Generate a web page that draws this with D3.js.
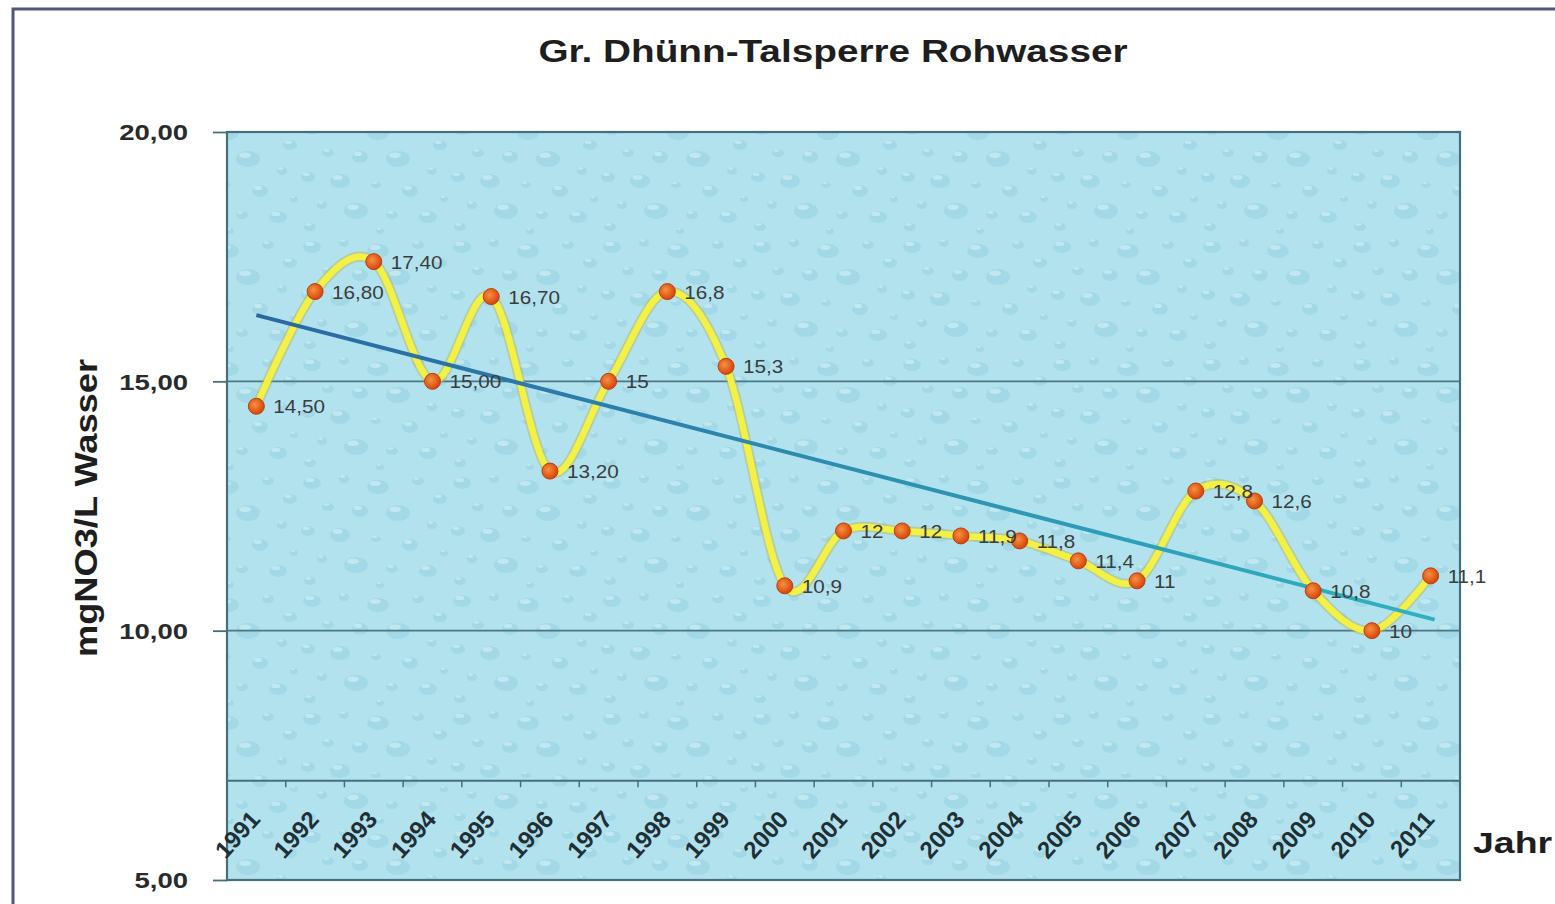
<!DOCTYPE html>
<html lang="de">
<head>
<meta charset="utf-8">
<title>Gr. Dhünn-Talsperre Rohwasser</title>
<script src="https://d3js.org/d3.v7.min.js"></script>
<style>
  body { margin: 0; background: #fff; }
  text { font-family: "Liberation Sans", Arial, sans-serif; }
</style>
</head>
<body>
<script>
// data
var years = ["1991", "1992", "1993", "1994", "1995", "1996", "1997", "1998", "1999", "2000",
             "2001", "2002", "2003", "2004", "2005", "2006", "2007", "2008", "2009", "2010", "2011"];
var nitrate = [14.5, 16.8, 17.4, 15.0, 16.7, 13.2, 15.0, 16.8, 15.3, 10.9,
               12.0, 12.0, 11.9, 11.8, 11.4, 11.0, 12.8, 12.6, 10.8, 10.0, 11.1];
var pointLabels = ["14,50", "16,80", "17,40", "15,00", "16,70", "13,20", "15", "16,8", "15,3", "10,9",
                   "12", "12", "11,9", "11,8", "11,4", "11", "12,8", "12,6", "10,8", "10", "11,1"];
var yTicks = [5, 10, 15, 20];
var gridValues = [10, 15];
var axisCross = 7;

var w = 1555, h = 904;
var plotLeft = 227, plotRight = 1460, plotTop = 132, plotBottom = 880;
var sx = 1.25; // the picture is stretched sideways, text too

var de = d3.formatLocale({decimal: ",", thousands: ".", grouping: [3], currency: ["", " €"]});

var svg = d3.select("body").append("svg")
  .attr("width", w).attr("height", h);

var defs = svg.append("defs");

// water drop texture (hand placed drops in one tile)
var pat = defs.append("pattern")
  .attr("id", "drops").attr("patternUnits", "userSpaceOnUse")
  .attr("width", 150).attr("height", 118);
pat.append("rect").attr("width", 150).attr("height", 118).attr("fill", "#b2e2ee");
var drops = [[12, 10, 9, 6], [44, 6, 5, 4], [78, 14, 11, 7], [118, 8, 6, 4], [140, 26, 7, 5],
             [28, 34, 6, 4], [60, 38, 8, 6], [98, 40, 12, 8], [132, 52, 5, 4], [8, 58, 7, 5],
             [40, 62, 10, 7], [76, 66, 5, 3], [110, 72, 8, 6], [22, 86, 5, 4], [56, 92, 12, 8],
             [92, 96, 6, 4], [128, 98, 9, 6], [10, 108, 6, 4], [80, 112, 4, 3], [144, 80, 4, 3]];
drops.forEach(function(d) {
  pat.append("ellipse").attr("cx", d[0]).attr("cy", d[1] + 1).attr("rx", d[2]).attr("ry", d[3])
    .attr("fill", "#8ccadb").attr("opacity", 0.4);
  pat.append("ellipse").attr("cx", d[0] - d[2] * 0.25).attr("cy", d[1] - d[3] * 0.35)
    .attr("rx", d[2] * 0.5).attr("ry", d[3] * 0.35)
    .attr("fill", "#d8f3f9").attr("opacity", 0.55);
});

var dot = defs.append("radialGradient").attr("id", "dot")
  .attr("cx", "40%").attr("cy", "40%").attr("r", "60%");
dot.append("stop").attr("offset", "0%").attr("stop-color", "#f4923f");
dot.append("stop").attr("offset", "100%").attr("stop-color", "#d9440c");

var x = d3.scaleBand().domain(years).range([plotLeft, plotRight]);
var y = d3.scaleLinear().domain([5, 20]).range([plotBottom, plotTop]);
function cx(d) { return x(d) + x.bandwidth() / 2; }

var trendGrad = defs.append("linearGradient").attr("id", "trend")
  .attr("gradientUnits", "userSpaceOnUse")
  .attr("x1", cx(years[0])).attr("x2", cx(years[years.length - 1]))
  .attr("y1", 0).attr("y2", 0);
trendGrad.append("stop").attr("offset", "0%").attr("stop-color", "#2a68a2");
trendGrad.append("stop").attr("offset", "100%").attr("stop-color", "#2eb2c0");

// outer frame
svg.append("rect")
  .attr("x", 13).attr("y", 9).attr("width", 1600).attr("height", 1000)
  .attr("fill", "none").attr("stroke", "#4f5878").attr("stroke-width", 3);

// title
svg.append("text")
  .attr("transform", "translate(833,62) scale(" + sx + ",1)")
  .attr("text-anchor", "middle").attr("font-size", 31).attr("font-weight", "bold")
  .attr("fill", "#1e1e1e")
  .text("Gr. Dhünn-Talsperre Rohwasser");

// plot area
svg.append("rect")
  .attr("x", plotLeft).attr("y", plotTop).attr("width", plotRight - plotLeft).attr("height", plotBottom - plotTop)
  .attr("fill", "url(#drops)");

// gridlines
svg.selectAll(".grid").data(gridValues).enter().append("line")
  .attr("class", "grid")
  .attr("x1", plotLeft).attr("x2", plotRight)
  .attr("y1", function(d) { return y(d); }).attr("y2", function(d) { return y(d); })
  .attr("stroke", "#4b7884").attr("stroke-width", 1.8);

svg.append("rect")
  .attr("x", plotLeft).attr("y", plotTop).attr("width", plotRight - plotLeft).attr("height", plotBottom - plotTop)
  .attr("fill", "none").attr("stroke", "#44707c").attr("stroke-width", 2.2);

// y axis
var yAxis = svg.append("g")
  .attr("transform", "translate(" + plotLeft + ",0)")
  .call(d3.axisLeft(y).tickValues(yTicks).tickSize(14).tickFormat(de.format(".2f")));
yAxis.select(".domain").remove();
yAxis.selectAll("line").attr("stroke", "#44707c").attr("stroke-width", 1.8);
yAxis.selectAll("text")
  .attr("x", 0).attr("dy", "0.36em")
  .attr("transform", "translate(-39,0) scale(" + sx + ",1)")
  .attr("font-size", 22).attr("font-weight", "bold").attr("fill", "#2a2a2a")
  .attr("font-family", null);

svg.append("text")
  .attr("transform", "translate(97,508) scale(1.15,1) rotate(-90)")
  .attr("text-anchor", "middle").attr("font-size", 28).attr("font-weight", "bold")
  .attr("fill", "#1e1e1e")
  .attr("textLength", 298).attr("lengthAdjust", "spacingAndGlyphs")
  .text("mgNO3/L Wasser");

// x axis crossing at 7
var xAxis = svg.append("g")
  .attr("transform", "translate(0," + y(axisCross) + ")")
  .call(d3.axisBottom(x).tickSize(0).tickSizeOuter(0));
xAxis.select(".domain").attr("stroke", "#44707c").attr("stroke-width", 1.8);
xAxis.selectAll("text")
  .attr("x", 0).attr("y", 0).attr("dy", 0)
  .attr("text-anchor", "end")
  .attr("transform", "translate(5,40) rotate(-48)")
  .attr("font-size", 24).attr("font-weight", "bold").attr("fill", "#1f2f33")
  .attr("font-family", null);

// tick marks between categories
xAxis.selectAll(".sep").data(years.slice(1)).enter().append("line")
  .attr("class", "sep")
  .attr("x1", function(d) { return x(d); }).attr("x2", function(d) { return x(d); })
  .attr("y1", 0).attr("y2", 7)
  .attr("stroke", "#44707c").attr("stroke-width", 1.5);

svg.append("text")
  .attr("transform", "translate(1473,853) scale(" + sx + ",1)")
  .attr("font-size", 30).attr("font-weight", "bold").attr("fill", "#1e1e1e")
  .text("Jahr");

// smoothed series line
var line = d3.line()
  .x(function(d, i) { return cx(years[i]); })
  .y(function(d) { return y(d); })
  .curve(d3.curveCardinal.tension(0));

svg.append("path").datum(nitrate)
  .attr("d", line).attr("fill", "none")
  .attr("stroke", "#b7b55a").attr("stroke-opacity", 0.5).attr("stroke-width", 10);
svg.append("path").datum(nitrate)
  .attr("d", line).attr("fill", "none")
  .attr("stroke", "#f4f145").attr("stroke-width", 6.5);

// linear trend line (least squares over the series)
var n = nitrate.length;
var mx = d3.mean(nitrate, function(d, i) { return i; });
var my = d3.mean(nitrate);
var sxy = d3.sum(nitrate, function(d, i) { return (i - mx) * (d - my); });
var sxx = d3.sum(nitrate, function(d, i) { return (i - mx) * (i - mx); });
var slope = sxy / sxx;
var trend = [0, n - 1].map(function(i) { return {i: i, v: my + slope * (i - mx)}; });

svg.append("line")
  .attr("x1", cx(years[trend[0].i])).attr("y1", y(trend[0].v))
  .attr("x2", cx(years[trend[1].i]) + 4).attr("y2", y(trend[1].v + slope * 4 / x.step()))
  .attr("stroke", "url(#trend)").attr("stroke-width", 4);

// markers
svg.selectAll(".pt").data(nitrate).enter().append("circle")
  .attr("class", "pt")
  .attr("cx", function(d, i) { return cx(years[i]); })
  .attr("cy", function(d) { return y(d); })
  .attr("r", 8)
  .attr("fill", "url(#dot)").attr("stroke", "#b9400f").attr("stroke-width", 1);

// point labels
svg.selectAll(".lbl").data(nitrate).enter().append("text")
  .attr("class", "lbl")
  .attr("transform", function(d, i) {
    return "translate(" + (cx(years[i]) + 17) + "," + (y(d) + 7) + ") scale(1.15,1)";
  })
  .attr("font-size", 18).attr("fill", "#3c3c3c")
  .text(function(d, i) { return pointLabels[i]; });
</script>
</body>
</html>
